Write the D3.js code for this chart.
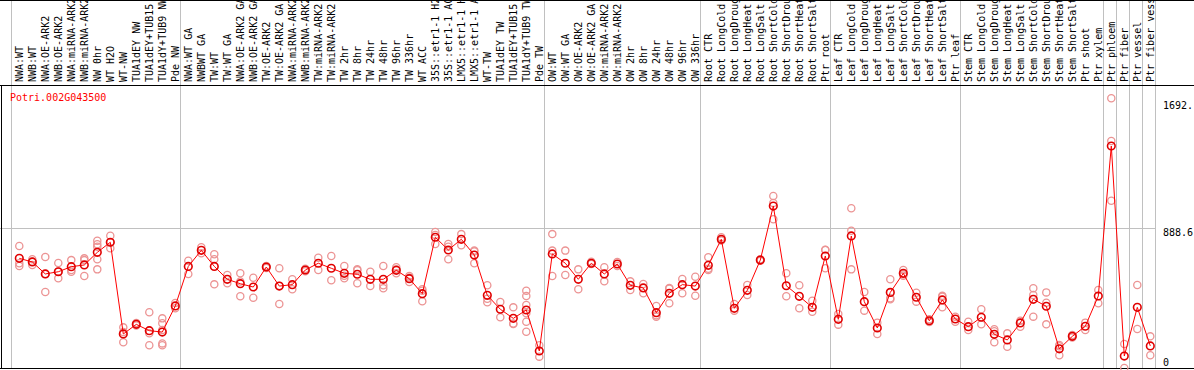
<!DOCTYPE html>
<html>
<head>
<meta charset="utf-8">
<script src="https://cdn.jsdelivr.net/npm/d3@7"></script>
<style>
body { margin: 0; background: #fff; }
svg { display: block; }
text { font-family: "DejaVu Sans Mono", "Liberation Mono", monospace; font-size: 10px; }
</style>
</head>
<body>
<svg width="1194" height="370"></svg>
<script>
var geneName = 'Potri.002G043500'

var sampleLabels = ['NWA:WT','NWB:WT','NWA:OE-ARK2','NWB:OE-ARK2','NWA:miRNA-ARK2','NWB:miRNA-ARK2','NW 0hr','WT H2O','WT-NW',
  'TUA1dEY NW','TUA1dEY+TUB15','TUA1dY+TUB9 NW','Pde NW',
  'NWA:WT GA','NWBWT GA','TW:WT','TW:WT GA','NWA:OE-ARK2 GA','NWB:OE-ARK2 GA','TW:OE-ARK2','TW:OE-ARK2 GA',
  'NWA:miRNA-ARK2','NWB:miRNA-ARK2','TW:miRNA-ARK2','TW:miRNA-ARK2','TW 2hr','TW 8hr','TW 24hr','TW 48hr','TW 96hr','TW 336hr',
  'WT ACC','35S::etr1-1 H2O','35S::etr1-1 ACC','LMX5::etr1-1 H','LMX5::etr1-1 A','WT-TW','TUA1dEY TW','TUA1dEY+TUB15','TUA1dY+TUB9 TW','Pde TW',
  'OW:WT','OW:WT GA','OW:OE-ARK2','OW:OE-ARK2 GA','OW:miRNA-ARK2','OW:miRNA-ARK2','OW 2hr','OW 8hr','OW 24hr','OW 48hr','OW 96hr','OW 336hr',
  'Root CTR','Root LongCold','Root LongDrought','Root LongHeat','Root LongSalt','Root ShortCold','Root ShortDrought','Root ShortHeat','Root ShortSalt','Ptr root',
  'Leaf CTR','Leaf LongCold','Leaf LongDrought','Leaf LongHeat','Leaf LongSalt','Leaf ShortCold','Leaf ShortDrought','Leaf ShortHeat','Leaf ShortSalt','Ptr leaf',
  'Stem CTR','Stem LongCold','Stem LongDrought','Stem LongHeat','Stem LongSalt','Stem ShortCold','Stem ShortDrought','Stem ShortHeat','Stem ShortSalt','Ptr shoot','Ptr xylem',
  'Ptr phloem','Ptr fiber','Ptr vessel','Ptr fiber vessel']

var meanValues = [696,673,597,611,643,654,734,798,216,277,237,228,394,
  645,747,645,563,535,514,641,520,529,622,665,633,601,595,563,563,620,567,472,830,749,817,717,461,373,315,368,108,
  724,665,563,665,597,660,525,508,351,474,529,520,
  652,817,379,493,685,1028,522,455,385,711,
  309,838,421,254,480,601,449,300,432,311,
  262,322,214,178,286,436,392,122,201,265,457,
  1409,76,385,140]

var replicateValues = [[774,665,647],[690,675,654],[705,597,482],[666,611,569],[685,622,611],[696,685,584],
  [808,785,770,690,626],[840,798,760],[258,228,163],[285,277,270],[354,220,144],[315,284,241,144,156],[413,379],
  [681,597],[766,728],[722,690,531],[590,538],[601,549,455],[573,446],[647,635],[633,520,406],[563,500],
  [630,614],[700,622],[711,557],[647,569,586],[626,620,538],[611,520],[647,525,506],[640,626,601],[584,575,546],
  [500,491,423],[863,844,787],[787,770,690],[850,779],[745,740,665],[525,440,417],[419,322],[385,282,279],
  [491,457,400,347,294,230],[144,72],
  [850,745,584],[745,590],[626,500],[675,660],[639,550],[673,647],[550,495],[533,474],[394,335,326],[508,503,411],[565,474],[579,459],
  [703,630,622],[830,812,810],[406,364],[527,463],[690,685,680],[1092,1048,944],[601,455],[525,379],[427,357],[749,750,633],
  [343,275],[1014,871,626],[482,364],[288,216],[563,442,436],[622,595,586],[478,421],[309,300,292],[453,458,385],[326,294],
  [294,241],[373,277],[246,233,163],[220,135],[300,262],[506,463,326],[480,414,277],[146,138,81],[209,200,194],[288,241],[495,411],
  [1712,1441,1062],[152,0],[527,248],[201,81]]

// first sample index of each block, last entry closes the chart
var blockStarts = [0,13,41,53,63,73,84,85,86,87,88]
var axisMax = 1777.2
var axisLabels = [['1692.',1692],['888.6',888.6],['0',0]]

var svg = d3.select('svg')
var plotTop = 85, plotBottom = 368

var band = d3.scaleBand().domain(d3.range(sampleLabels.length)).range([11.3, 1155.3])
function cx(i) { return band(i) + 8 }
var y = d3.scaleLinear().domain([0, axisMax]).range([plotBottom, plotTop + 3])

// grid lines
svg.append('line').attr('x1', 0).attr('x2', 1156).attr('y1', Math.round(y(axisMax / 2)) + 0.5).attr('y2', Math.round(y(axisMax / 2)) + 0.5)
  .attr('stroke', '#c0c0c0')
svg.selectAll('.sep').data(blockStarts).enter().append('line')
  .attr('x1', function(d) { return Math.round(cx(0) + 13 * d - 8) + 0.5 })
  .attr('x2', function(d) { return Math.round(cx(0) + 13 * d - 8) + 0.5 })
  .attr('y1', 0).attr('y2', plotBottom)
  .attr('stroke', '#c0c0c0')

// frame
svg.append('line').attr('x1', 0).attr('x2', 1194).attr('y1', 0.5).attr('y2', 0.5).attr('stroke', '#000')
svg.append('line').attr('x1', 0).attr('x2', 1194).attr('y1', plotTop + 0.5).attr('y2', plotTop + 0.5).attr('stroke', '#000')
svg.append('line').attr('x1', 0).attr('x2', 1194).attr('y1', plotBottom + 0.5).attr('y2', plotBottom + 0.5).attr('stroke', '#000')
svg.append('line').attr('x1', 1.5).attr('x2', 1.5).attr('y1', plotTop).attr('y2', plotBottom).attr('stroke', '#000')

// sample labels
svg.selectAll('.lab').data(sampleLabels).enter().append('text')
  .attr('transform', function(d, i) { return 'translate(' + (cx(i) + 3.5) + ',' + (plotTop - 3) + ') rotate(-90)' })
  .attr('fill', '#000')
  .text(function(d) { return d })

// right value labels
svg.selectAll('.ax').data(axisLabels).enter().append('text')
  .attr('x', 1163)
  .attr('y', function(d) { return d[1] === 0 ? y(0) - 2 : y(d[1]) + 8 })
  .attr('fill', '#000')
  .text(function(d) { return d[0] })

svg.append('text').attr('x', 10).attr('y', 101).attr('fill', '#f00').text(geneName)

// replicates
var reps = []
replicateValues.forEach(function(arr, i) { arr.forEach(function(v) { reps.push([i, v]) }) })
svg.append('g').selectAll('circle').data(reps).enter().append('circle')
  .attr('cx', function(d) { return cx(d[0]) })
  .attr('cy', function(d) { return y(d[1]) })
  .attr('r', 3.6)
  .attr('fill', 'none')
  .attr('stroke', '#ec9494')
  .attr('stroke-width', 1.3)

var line = d3.line().x(function(d, i) { return cx(i) }).y(function(d) { return y(d) })
svg.append('path').datum(meanValues).attr('d', line)
  .attr('fill', 'none').attr('stroke', '#f00').attr('stroke-width', 1)

svg.append('g').selectAll('circle').data(meanValues).enter().append('circle')
  .attr('cx', function(d, i) { return cx(i) })
  .attr('cy', function(d) { return y(d) })
  .attr('r', 3.8)
  .attr('fill', 'none')
  .attr('stroke', '#e00000')
  .attr('stroke-width', 1.6)
</script>
</body>
</html>
